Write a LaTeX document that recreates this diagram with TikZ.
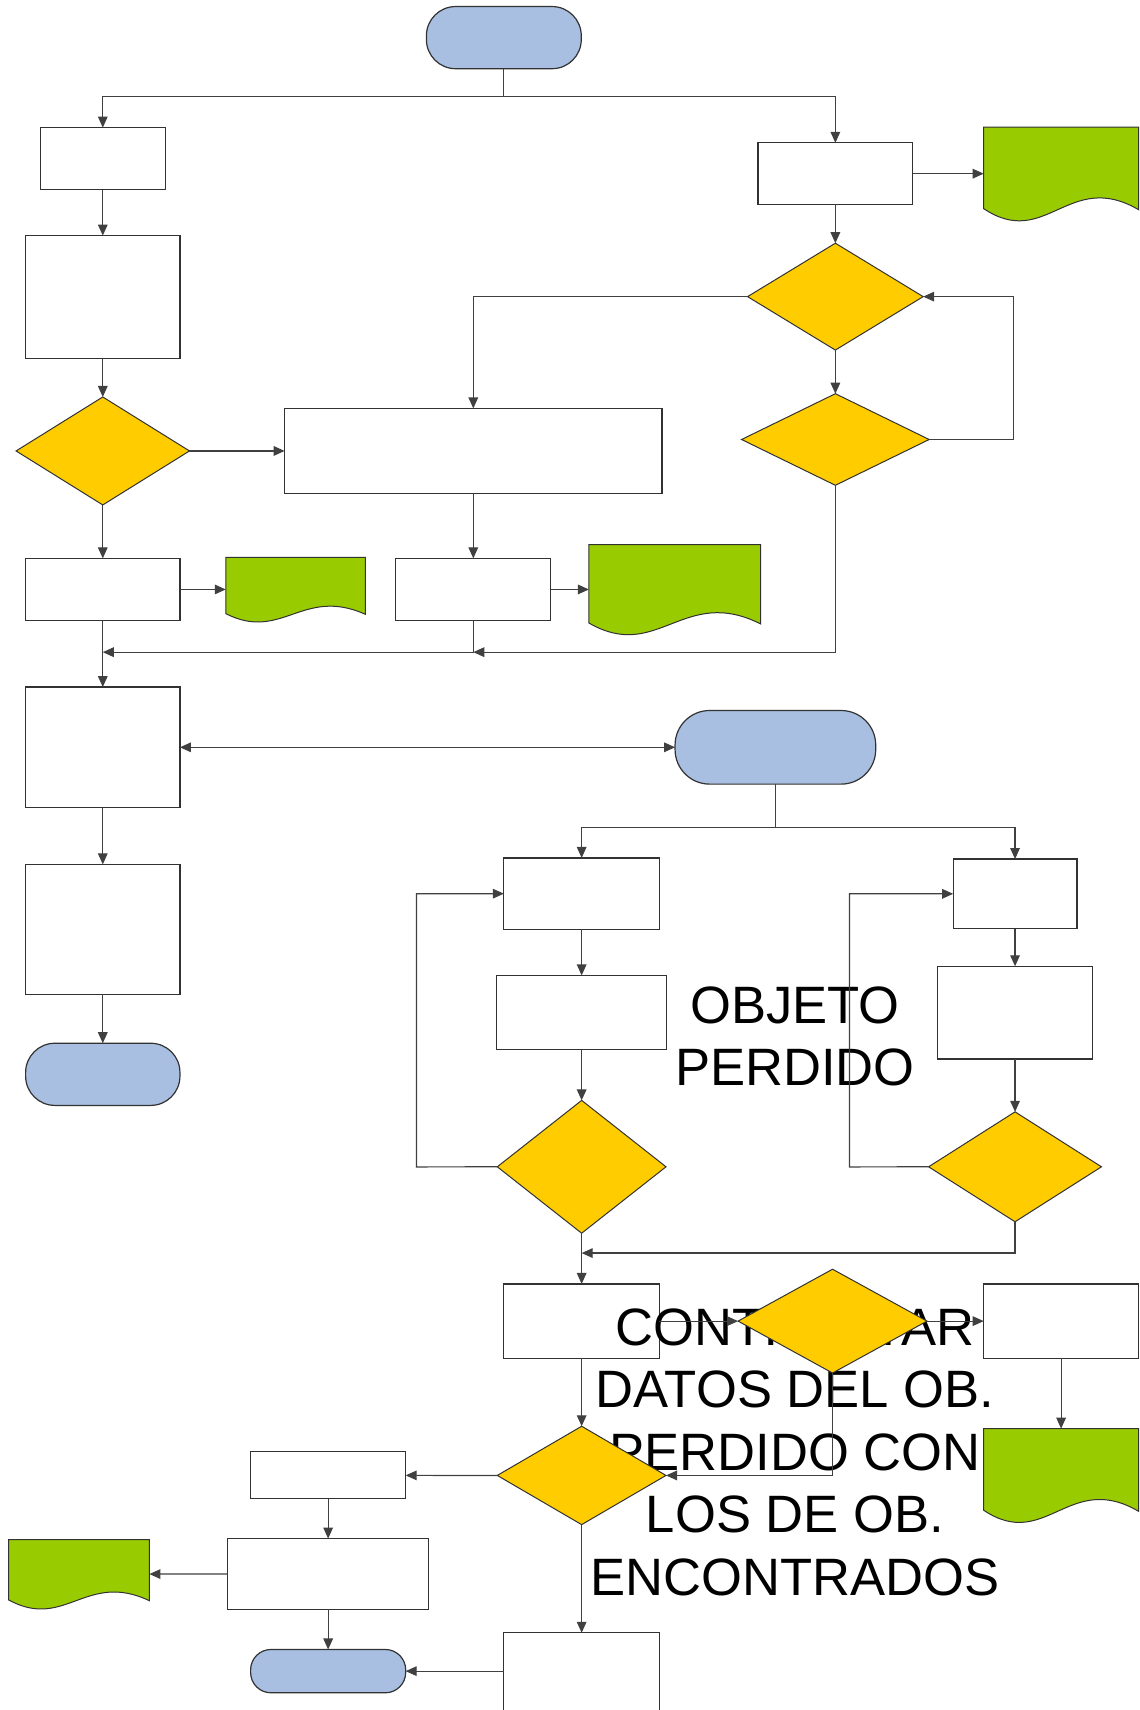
\documentclass[tikz,border=0pt]{standalone}
\usepackage{fontspec}
\newfontfamily\arialf{Liberation Sans}
\usetikzlibrary{shapes.geometric,arrows.meta}
\definecolor{termblue}{RGB}{169,191,225}
\definecolor{docgreen}{RGB}{153,204,0}
\definecolor{decyellow}{RGB}{255,204,0}
\definecolor{edgegray}{RGB}{50,50,50}

\newcommand\mkbox[6]{% style, name, x1, y1, x2, y2
  \pgfmathsetmacro\mkcx{(#3+#5)/2}%
  \pgfmathsetmacro\mkcy{(#4+#6)/2}%
  \pgfmathsetmacro\mkw{(#5-#3)*0.54545}%
  \pgfmathsetmacro\mkh{(#6-#4)*0.54545}%
  \pgfmathsetmacro\mkr{0.47*\mkh}%
  \node[#1, minimum width=\mkw pt, minimum height=\mkh pt] (#2) at (\mkcx,\mkcy) {};%
}
\newcommand\mkdoc[5]{% name, x1, y1, x2, y2
  \mkbox{docnode}{#1}{#2}{#3}{#4}{#5}%
  \pgfmathsetmacro\mkdw{#4-#2}%
  \pgfmathsetmacro\mkdh{#5-#3}%
  \begin{scope}[shift={(\mkcx,\mkcy)}, xscale=\mkdw, yscale=\mkdh]
    \draw[docshape] (-0.5,-0.5) -- (0.5,-0.5) -- (0.5,0.386)
      .. controls (0.05,-0.05) and (-0.1,0.82) .. (-0.5,0.375) -- cycle;
  \end{scope}%
}

\tikzset{
  proc/.style={draw=edgegray, line width=0.6pt, fill=white, inner sep=0pt, outer sep=0pt, rectangle},
  term/.style={draw=edgegray, line width=0.6pt, fill=termblue, inner sep=0pt, outer sep=0pt, rectangle, rounded corners=\mkr pt},
  dec/.style={draw=edgegray, line width=0.5pt, fill=decyellow, inner sep=0pt, outer sep=0pt, diamond},
  docnode/.style={inner sep=0pt, outer sep=0pt, rectangle},
  docshape/.style={draw=edgegray, line width=0.5pt, fill=docgreen},
  conn/.style={draw=black!75, line width=0.6pt},
  arr/.style={conn, -{Triangle[length=5.5pt,width=4.8pt]}},
  arrboth/.style={conn, {Triangle[length=5.5pt,width=4.8pt]}-{Triangle[length=5.5pt,width=4.8pt]}},
  bigtxt/.style={font=\arialf\fontsize{26.3pt}{31pt}\selectfont, inner sep=0pt, anchor=base, text=black}
}

\begin{document}
\begin{tikzpicture}[x=0.54545pt, y=-0.54545pt]
\useasboundingbox (0,0) rectangle (1045,1568);
\clip (0,0) rectangle (1045,1568);
\fill[white] (0,0) rectangle (1045,1568);

% shapes
\mkbox{term}{T1}{391}{6}{533}{63}
\mkbox{proc}{A}{37}{117}{151.5}{174}
\mkbox{proc}{B}{695}{131}{837}{187.5}
\mkdoc{D1}{902}{116.5}{1044}{202}
\mkbox{proc}{C}{23.5}{216}{165}{329}
\mkbox{dec}{E}{685.5}{223}{846.5}{321}
\mkbox{dec}{G}{680}{361}{852}{445}
\mkbox{proc}{F}{261}{374.5}{607}{452.5}
\mkbox{dec}{H}{14.75}{364}{173.75}{463}
\mkbox{proc}{I}{23.5}{512}{165}{569}
\mkdoc{D2}{207}{511}{335}{570}
\mkbox{proc}{J}{363}{512}{505}{569}
\mkdoc{D3}{540}{499.5}{697.5}{581.5}
\mkbox{proc}{K}{23.5}{630}{165}{740.5}
\mkbox{term}{T2}{619}{651.5}{803}{719}
\mkbox{proc}{L}{23.5}{792.6}{165}{911.7}
\mkbox{term}{T3}{23.5}{956.6}{165}{1013.6}
\mkbox{proc}{M}{462}{786.7}{604.7}{852.2}
\mkbox{proc}{N}{874}{787.7}{987.5}{851.5}
\mkbox{proc}{O}{455.5}{894.4}{611.2}{962.5}
\mkbox{proc}{Q}{859.5}{886}{1002}{971}
\mkbox{dec}{P}{456}{1009}{610.7}{1130.8}
\mkbox{dec}{R}{851.5}{1019.5}{1010}{1120.3}
\mkbox{proc}{S}{462}{1177.3}{604.7}{1245.5}
\mkbox{proc}{V}{902}{1177.3}{1044}{1245.5}
\mkdoc{D4}{902}{1310}{1044}{1395.5}

% texts (above the boxes, below the diamonds that cover them)
\node[bigtxt] (t1) at (729,938.3) {OBJETO};
\node[bigtxt] (t2) at (729,995.5) {PERDIDO};
\node[bigtxt] (t3) at (729,1233.6) {CONTRASTAR};
\node[bigtxt] (t4) at (729,1290.9) {DATOS DEL OB.};
\node[bigtxt] (t5) at (729,1348.2) {PERDIDO CON};
\node[bigtxt] (t6) at (729,1405.5) {LOS DE OB.};
\node[bigtxt] (t7) at (729,1462.7) {ENCONTRADOS};

\mkbox{dec}{U}{676.8}{1163.8}{850}{1259}
\mkbox{dec}{W}{456}{1307.8}{610.7}{1398}
\mkbox{proc}{X}{229.8}{1331.3}{372}{1374.4}
\mkbox{proc}{Y}{208.8}{1410.8}{393}{1475.8}
\mkdoc{D5}{8}{1411.7}{137}{1475}
\mkbox{term}{T4}{229.8}{1512.5}{372}{1552.2}
\mkbox{proc}{Z}{462}{1497.2}{604.7}{1580}

% junction coordinates
\coordinate (j1) at (462,88.4);
\coordinate (gl) at (929,403);
\coordinate (m1) at (434,598);
\coordinate (m2) at (94.25,598);
\coordinate (j2) at (711,758.6);
\coordinate (lp) at (382,1070);
\coordinate (lr) at (779,1070);
\coordinate (m3) at (533.35,1149);

% connectors
\draw[conn] (T1.south) -- (j1);
\draw[arr] (j1) -| (A.north);
\draw[arr] (j1) -| (B.north);
\draw[arr] (A.south) -- (C.north);
\draw[arr] (B.south) -- (E.north);
\draw[arr] (B.east) -- (D1.west);
\draw[arr] (E.west) -| (F.north);
\draw[arr] (E.south) -- (G.north);
\draw[arr] (G.east) -- (gl) |- (E.east);
\draw[arr] (C.south) -- (H.north);
\draw[arr] (H.east) -- (F.west);
\draw[arr] (H.south) -- (I.north);
\draw[arr] (F.south) -- (J.north);
\draw[arr] (I.east) -- (D2.west);
\draw[arr] (J.east) -- (D3.west);
\draw[arr] (G.south) |- (m1);
\draw[arr] (J.south) |- (m2);
\draw[arr] (I.south) -- (K.north);
\draw[arrboth] (K.east) -- (T2.west);
\draw[arr] (K.south) -- (L.north);
\draw[arr] (L.south) -- (T3.north);
\draw[conn] (T2.south) -- (j2);
\draw[arr] (j2) -| (M.north);
\draw[arr] (j2) -| (N.north);
\draw[arr] (M.south) -- (O.north);
\draw[arr] (O.south) -- (P.north);
\draw[arr] (P.west) -- (lp) |- (M.west);
\draw[arr] (N.south) -- (Q.north);
\draw[arr] (Q.south) -- (R.north);
\draw[arr] (R.west) -- (lr) |- (N.west);
\draw[arr] (R.south) |- (m3);
\draw[arr] (P.south) -- (S.north);
\draw[arr] (S.east) -- (U.west);
\draw[arr] (U.east) -- (V.west);
\draw[arr] (V.south) -- (D4.north);
\draw[arr] (U.south) |- (W.east);
\draw[arr] (S.south) -- (W.north);
\draw[arr] (W.west) -- (X.east);
\draw[arr] (X.south) -- (Y.north);
\draw[arr] (Y.west) -- (D5.east);
\draw[arr] (Y.south) -- (T4.north);
\draw[arr] (W.south) -- (Z.north);
\draw[arr] (Z.west |- T4.east) -- (T4.east);
\end{tikzpicture}
\end{document}
